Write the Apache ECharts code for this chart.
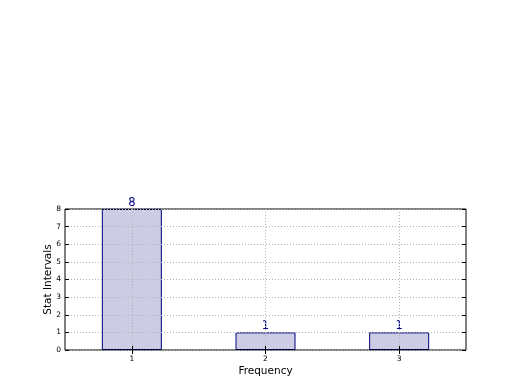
<!DOCTYPE html>
<html><head><meta charset="utf-8">
<script src="https://cdn.jsdelivr.net/npm/echarts@6/dist/echarts.min.js"></script>
<style>html,body{margin:0;padding:0;background:#fff}#c{width:520px;height:390px}</style>
</head><body><div id="c"></div>
<script>
var categories = ['1', '2', '3'];
var values = [8, 1, 1];
var yTicks = [0, 1, 2, 3, 4, 5, 6, 7, 8];

var chart = echarts.init(document.getElementById('c'), null, {renderer: 'canvas'});
var font = 'DejaVu Sans';
var gridLine = {show: true, lineStyle: {color: '#b0b0b0', type: [1, 2], width: 1}};
chart.setOption({
  animation: false,
  backgroundColor: '#fff',
  grid: {left: 65, right: 54, top: 209, bottom: 40, show: true, borderColor: '#000', borderWidth: 1, backgroundColor: 'transparent', z: 3},
  xAxis: [{
    type: 'category', data: categories, boundaryGap: true, z: 3,
    name: 'Frequency', nameLocation: 'middle', nameGap: 16, nameMoveOverlap: false,
    nameTextStyle: {fontFamily: font, fontSize: 10.5, color: '#000'},
    axisLine: {show: false},
    axisTick: {show: true, inside: true, alignWithLabel: true, length: 4, lineStyle: {color: '#000'}},
    axisLabel: {fontFamily: font, fontSize: 7.5, color: '#000', margin: 5},
    splitLine: {show: true, alignWithLabel: true, lineStyle: {color: '#b0b0b0', type: [1, 2], width: 1}}
  }, {
    type: 'category', data: categories, boundaryGap: true, position: 'top', z: 3,
    axisLine: {show: false},
    axisTick: {show: true, inside: true, alignWithLabel: true, length: 4, lineStyle: {color: '#000'}},
    axisLabel: {show: false}, splitLine: {show: false}
  }],
  yAxis: [{
    type: 'value', min: yTicks[0], max: yTicks[yTicks.length - 1], interval: 1, z: 3,
    name: 'Stat Intervals', nameLocation: 'middle', nameGap: 11, nameMoveOverlap: false,
    nameTextStyle: {fontFamily: font, fontSize: 10.5, color: '#000'},
    axisLine: {show: false},
    axisTick: {show: true, inside: true, length: 4, lineStyle: {color: '#000'}},
    axisLabel: {fontFamily: font, fontSize: 7.5, color: '#000', margin: 4},
    splitLine: gridLine
  }, {
    type: 'value', min: yTicks[0], max: yTicks[yTicks.length - 1], interval: 1, position: 'right', z: 3,
    axisLine: {show: false},
    axisTick: {show: true, inside: true, length: 4, lineStyle: {color: '#000'}},
    axisLabel: {show: false}, splitLine: {show: false}
  }],
  series: [{
    type: 'bar', data: values, barWidth: 60, z: 1,
    itemStyle: {color: '#cccce4', borderColor: '#000080', borderWidth: 1},
    label: {show: true, position: 'top', distance: 0, fontFamily: font, fontSize: 11.5, color: '#000080'}
  }]
});
</script></body></html>
